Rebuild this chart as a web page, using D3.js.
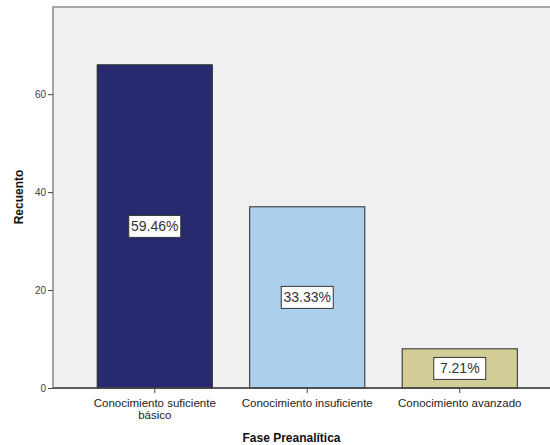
<!DOCTYPE html>
<html>
<head>
<meta charset="utf-8">
<script src="https://cdn.jsdelivr.net/npm/d3@7"></script>
<style>
  body { margin: 0; background: #fff; }
  svg { display: block; font-family: "Liberation Sans", Arial, sans-serif; }
</style>
</head>
<body>
<div id="chart"></div>
<script>
// data
var categories = ["Conocimiento suficiente básico", "Conocimiento insuficiente", "Conocimiento avanzado"];
var catLines = [["Conocimiento suficiente", "básico"], ["Conocimiento insuficiente"], ["Conocimiento avanzado"]];
var counts = [66, 37, 8];
var percents = ["59.46%", "33.33%", "7.21%"];
var colors = ["#282a6f", "#abd0ee", "#d3ce98"];
var yTicks = [0, 20, 40, 60];

var width = 550, height = 445;
var plot = {left: 53, top: 7, right: 562, bottom: 388};

var svg = d3.select("#chart").append("svg")
  .attr("width", width)
  .attr("height", height);

var x = d3.scaleBand()
  .domain(categories)
  .range([78.5, 536])
  .paddingInner(0.245)
  .paddingOuter(0.1225);

var y = d3.scaleLinear()
  .domain([0, 77.8])
  .range([plot.bottom, plot.top]);

// plot background
svg.append("rect")
  .attr("x", plot.left)
  .attr("y", plot.top)
  .attr("width", plot.right - plot.left)
  .attr("height", plot.bottom - plot.top)
  .attr("fill", "#f0f0f0")
  .attr("stroke", "#8c8c8c")
  .attr("stroke-width", 1.5);

// bars
svg.selectAll(".bar")
  .data(categories)
  .join("rect")
  .attr("class", "bar")
  .attr("x", (d) => x(d))
  .attr("y", (d, i) => y(counts[i]))
  .attr("width", x.bandwidth())
  .attr("height", (d, i) => y(0) - y(counts[i]))
  .attr("fill", (d, i) => colors[i])
  .attr("stroke", "#2a2a2a")
  .attr("stroke-width", 1);

// y axis
var yAxis = svg.append("g")
  .attr("transform", "translate(" + plot.left + ",0)")
  .call(d3.axisLeft(y).tickValues(yTicks).tickSize(5).tickPadding(2).tickSizeOuter(0));
yAxis.select(".domain").remove();
yAxis.selectAll("line").attr("stroke", "#444");
yAxis.selectAll("text")
  .attr("fill", "#444")
  .style("font-size", "10px")
  .style("font-family", "'Liberation Sans', Arial, sans-serif");

// x axis
var xAxis = svg.append("g")
  .attr("transform", "translate(0," + plot.bottom + ")")
  .call(d3.axisBottom(x).tickSize(5).tickSizeOuter(0).tickFormat(""));
xAxis.select(".domain")
  .attr("d", "M" + plot.left + ",0H" + width)
  .attr("stroke", "#444")
  .attr("stroke-width", 1.5);
xAxis.selectAll("line").attr("stroke", "#444");

// category labels
categories.forEach(function(c, i) {
  var t = svg.append("text")
    .attr("x", x(c) + x.bandwidth() / 2)
    .attr("y", plot.bottom + 19)
    .attr("text-anchor", "middle")
    .attr("fill", "#222")
    .style("font-size", "11.5px");
  catLines[i].forEach(function(line, j) {
    t.append("tspan")
      .attr("x", x(c) + x.bandwidth() / 2)
      .attr("dy", j == 0 ? 0 : 12)
      .text(line);
  });
});

// percent labels
var labels = svg.selectAll(".pct")
  .data(categories)
  .join("g")
  .attr("class", "pct")
  .attr("transform", (d, i) => "translate(" + (x(d) + x.bandwidth() / 2) + "," + ((y(counts[i]) + y(0)) / 2) + ")");

labels.append("rect")
  .attr("x", -26)
  .attr("y", -11)
  .attr("width", 52)
  .attr("height", 22)
  .attr("fill", "#fff")
  .attr("stroke", "#333")
  .attr("stroke-width", 1);

labels.append("text")
  .attr("text-anchor", "middle")
  .attr("dy", "0.36em")
  .attr("fill", "#333")
  .style("font-size", "14px")
  .text((d, i) => percents[i]);

// axis titles
svg.append("text")
  .attr("x", 291.5)
  .attr("y", 442)
  .attr("text-anchor", "middle")
  .attr("fill", "#111")
  .style("font-size", "12px")
  .style("font-weight", "bold")
  .text("Fase Preanalítica");

svg.append("text")
  .attr("transform", "translate(23,197) rotate(-90)")
  .attr("text-anchor", "middle")
  .attr("fill", "#111")
  .style("font-size", "12px")
  .style("font-weight", "bold")
  .text("Recuento");
</script>
</body>
</html>
